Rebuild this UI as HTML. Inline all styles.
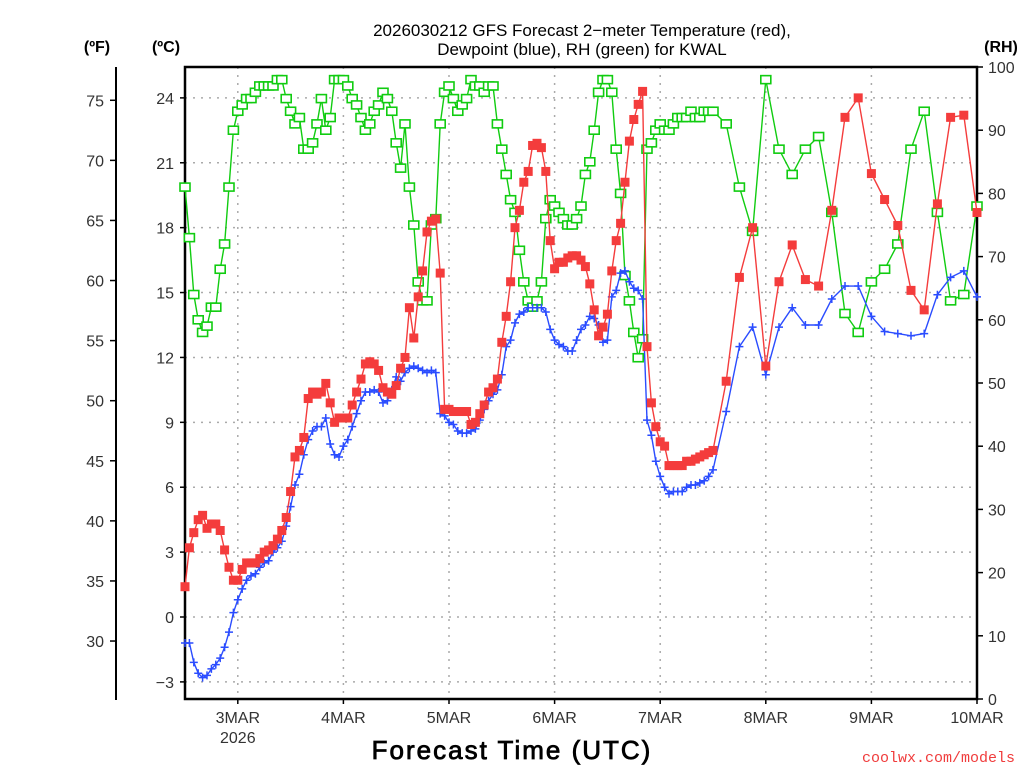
<!DOCTYPE html>
<html><head><meta charset="utf-8"><style>
html,body{margin:0;padding:0;background:#fff;}
svg{display:block;font-family:"Liberation Sans",sans-serif;}
</style></head><body>
<svg id="chart" width="1024" height="768" viewBox="0 0 1024 768" xmlns="http://www.w3.org/2000/svg">
<text x="582" y="36" font-size="17" text-anchor="middle" fill="#000">2026030212 GFS Forecast 2−meter Temperature (red),</text>
<text x="582" y="55" font-size="17" text-anchor="middle" fill="#000">Dewpoint (blue), RH (green) for KWAL</text>
<text x="97" y="52" font-size="16" font-weight="bold" text-anchor="middle">(ºF)</text>
<text x="166" y="52" font-size="16" font-weight="bold" text-anchor="middle">(ºC)</text>
<text x="1001" y="52" font-size="16" font-weight="bold" text-anchor="middle">(RH)</text>
<text x="512" y="759" font-size="26" text-anchor="middle" letter-spacing="2" stroke="#000" stroke-width="0.8">Forecast Time (UTC)</text>
<text x="1015" y="762" font-size="15" text-anchor="end" fill="#f03c3c" font-family="Liberation Mono, monospace">coolwx.com/models</text>
<g id="grid"></g><g id="axes"></g><g id="series"></g>
</svg>
<script>
// hourly data, hours 0..120 from 2026-03-02 12Z
const tempHourly=[1.4,3.2,3.9,4.5,4.7,4.1,4.3,4.3,4.0,3.1,2.3,1.7,1.7,2.2,2.5,2.5,2.5,2.7,3.0,3.1,3.3,3.6,4.0,4.6,5.8,7.4,7.7,8.3,10.1,10.4,10.3,10.4,10.8,9.9,9.0,9.2,9.2,9.2,9.8,10.4,11.0,11.7,11.8,11.7,11.4,10.6,10.4,10.3,10.7,11.5,12.0,14.3,12.9,14.8,16.0,17.8,18.3,18.4,15.9,9.6,9.6,9.5,9.5,9.5,9.5,8.9,9.0,9.4,9.8,10.4,10.6,11.0,12.7,13.9,15.5,18.0,18.8,20.1,20.6,21.8,21.9,21.7,20.6,17.4,16.1,16.4,16.4,16.6,16.7,16.7,16.5,16.2,15.4,14.2,13.0,13.4,14.0,16.0,17.4,18.2,20.1,22.0,23.0,23.7,24.3,12.5,9.9,8.8,8.1,7.9,7.0,7.0,7.0,7.0,7.2,7.2,7.3,7.4,7.5,7.6,7.7];
const dewHourly=[-1.2,-1.2,-2.1,-2.6,-2.8,-2.7,-2.4,-2.2,-1.9,-1.4,-0.7,0.2,0.8,1.3,1.7,1.9,2.0,2.3,2.5,2.6,3.0,3.2,3.5,4.2,5.1,6.1,6.6,7.5,8.2,8.6,8.8,8.8,9.2,8.0,7.5,7.4,7.9,8.2,8.8,9.4,10.0,10.4,10.4,10.5,10.4,9.9,10.0,10.5,11.1,10.9,11.3,11.5,11.6,11.5,11.4,11.3,11.4,11.3,9.4,9.3,9.0,8.9,8.6,8.5,8.5,8.6,8.7,9.1,9.6,10.0,10.3,10.5,11.2,12.5,12.8,13.6,14.0,14.1,14.3,14.3,14.3,14.3,14.1,13.3,12.8,12.6,12.5,12.3,12.3,12.8,13.3,13.5,13.9,13.8,13.5,12.7,12.8,14.8,15.1,15.9,16.0,15.5,15.2,15.1,14.7,9.1,8.4,7.2,6.5,6.0,5.7,5.8,5.8,5.8,6.0,6.1,6.1,6.2,6.3,6.5,6.8];
const rhHourly=[81,73,64,60,58,59,62,62,68,72,81,90,93,94,95,95,96,97,97,97,97,98,98,95,93,91,92,87,87,88,91,95,90,92,98,98,98,97,95,94,92,90,91,93,94,96,95,93,88,84,91,81,75,66,63,63,75,76,91,96,97,95,93,94,95,98,97,97,96,97,97,91,87,83,79,77,71,66,63,62,63,66,76,79,78,77,76,75,75,76,78,83,85,90,96,98,98,96,87,80,67,63,58,54,57,87,88,90,91,90,90,91,92,92,92,93,92,92,93,93,93];
// 3-hourly data, hours 123..180
const temp3h=[10.9,15.7,18.0,11.6,15.5,17.2,15.6,15.3,18.8,23.1,24.0,20.5,19.3,18.1,15.1,14.2,19.1,23.1,23.2,18.7];
const dew3h=[9.5,12.5,13.4,11.2,13.4,14.3,13.5,13.5,14.7,15.3,15.3,13.9,13.2,13.1,13.0,13.1,14.9,15.7,16.0,14.8];
const rh3h=[91,81,74,98,87,83,87,89,77,61,58,66,68,72,87,93,77,63,64,78];
const dayLabels=["3MAR","4MAR","5MAR","6MAR","7MAR","8MAR","9MAR","10MAR"];
const cTicks=[-3,0,3,6,9,12,15,18,21,24];
const fTicks=[30,35,40,45,50,55,60,65,70,75];
const rhTicks=[0,10,20,30,40,50,60,70,80,90,100];

const NS="http://www.w3.org/2000/svg";
const L=185,R=977,T=67,B=699;
const H0=0,H1=180;
function xs(h){return L+(h-H0)/(H1-H0)*(R-L);}
function yc(c){return 617-c*21.63;}
function yf(f){return yc((f-32)/1.8);}
function yr(r){return B-(r/100)*(B-T);}
function mk(tag,attrs,parent){const e=document.createElementNS(NS,tag);for(const k in attrs)e.setAttribute(k,attrs[k]);parent.appendChild(e);return e;}
const grid=document.getElementById('grid'),axes=document.getElementById('axes'),ser=document.getElementById('series');

cTicks.forEach(c=>{const y=yc(c);
 const g=mk('line',{x1:L,x2:R,y1:y,y2:y,stroke:'#aaa','stroke-width':1.5,'stroke-dasharray':'2 6'},grid);
 
 
 const t=mk('line',{x1:L-5,x2:L,y1:y,y2:y,stroke:'#000','stroke-width':1.5},axes);
 
 
 const tx=mk('text',{x:L-11,y:y+6,'font-size':16,'text-anchor':'end',fill:'#333'},axes);
 tx.textContent=(c<0?'−':'')+Math.abs(c);
 
 
});
dayLabels.forEach((d,i)=>{const x=xs(12+24*i);
 if(i<dayLabels.length-1){const g=mk('line',{x1:x,x2:x,y1:T,y2:B,stroke:'#aaa','stroke-width':1.5,'stroke-dasharray':'2 6'},grid);
 
 }
 const t=mk('line',{x1:x,x2:x,y1:B,y2:B+5,stroke:'#000','stroke-width':1.5},axes);
 
 
 const tx=mk('text',{x:x,y:B+24,'font-size':16,'text-anchor':'middle',fill:'#333'},axes);
 tx.textContent=d;
 
 
 if(i===0){const y2=mk('text',{x:x,y:B+44,'font-size':16,'text-anchor':'middle',fill:'#333'},axes);
 y2.textContent='2026';
 
 }
});
const fl=mk('line',{x1:116,x2:116,y1:T,y2:B+1,stroke:'#000','stroke-width':2},axes);


fTicks.forEach(f=>{const y=yf(f);
 const t=mk('line',{x1:110,x2:116,y1:y,y2:y,stroke:'#000','stroke-width':1.5},axes);
 
 
 const tx=mk('text',{x:104,y:y+6,'font-size':16,'text-anchor':'end',fill:'#333'},axes);
 tx.textContent=f;
 
 
});
rhTicks.forEach(r=>{const y=yr(r);
 const t=mk('line',{x1:R,x2:R+6,y1:y,y2:y,stroke:'#000','stroke-width':1.5},axes);
 
 
 const tx=mk('text',{x:R+11,y:y+6,'font-size':16,'text-anchor':'start',fill:'#333'},axes);
 tx.textContent=r;
 
 
});
const fr=mk('rect',{x:L,y:T,width:R-L,height:B-T,fill:'none',stroke:'#000','stroke-width':2.5},axes);



function pts(hourly,three,scale){const p=[];hourly.forEach((v,i)=>p.push([xs(i),scale(v)]));three.forEach((v,i)=>p.push([xs(123+3*i),scale(v)]));return p;}
function drawSeries(name,p,color,marker){
 const g=mk('g',{},ser);
 
 
 const pl=mk('polyline',{points:p.map(q=>q[0].toFixed(1)+','+q[1].toFixed(1)).join(' '),fill:'none',stroke:color,'stroke-width':1.4},g);
 
 
 p.forEach(q=>{let m;
  if(marker==='fill'){m=mk('rect',{x:q[0]-4.5,y:q[1]-4.5,width:9,height:9,fill:color},g);}
  else if(marker==='open'){m=mk('rect',{x:q[0]-5,y:q[1]-4,width:10,height:8,fill:'#fff',stroke:color,'stroke-width':1.6},g);}
  else{m=mk('path',{d:`M${q[0]-4},${q[1]}h8M${q[0]},${q[1]-4}v8`,stroke:color,'stroke-width':1.5,fill:'none'},g);}
  
  
 });
}
drawSeries('rh',pts(rhHourly,rh3h,yr),'#10cc10','open');
drawSeries('dewpoint',pts(dewHourly,dew3h,yc),'#2a4cff','plus');
drawSeries('temperature',pts(tempHourly,temp3h,yc),'#f43c3c','fill');
</script>
</body></html>
